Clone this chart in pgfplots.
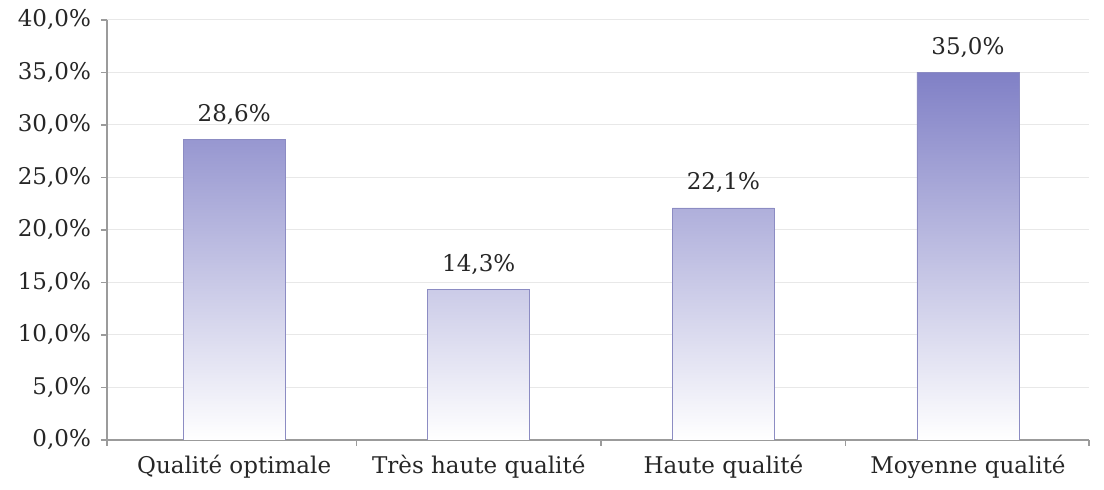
\documentclass[border=0pt]{standalone}
\usepackage{pgfplots}
\pgfplotsset{compat=1.18}
\usepackage{fontspec}
\setmainfont{DejaVu Serif}
\definecolor{bartop}{RGB}{128,128,198}
\definecolor{baredge}{RGB}{140,140,195}
\definecolor{gridc}{RGB}{232,232,232}
\definecolor{axisc}{RGB}{155,155,155}
\begin{document}
\begin{tikzpicture}
\begin{axis}[
    scale only axis,
    width=491pt, height=210pt,
    ybar, bar width=51pt,
    xmin=-0.52, xmax=3.495,
    ymin=0, ymax=40,
    xtick={0,1,2,3},
    xticklabels={Qualité optimale, Très haute qualité, Haute qualité, Moyenne qualité},
    minor xtick={-0.52,0.5,1.5,2.5,3.495},
    ytick={0,5,...,40},
    /pgf/number format/assume math mode=true,
    yticklabel={\pgfmathprintnumber[fixed,fixed zerofill,precision=1,use comma]{\tick}\%},
    axis x line*=bottom, axis y line*=left,
    axis line style={axisc, line width=0.8pt},
    tick align=outside,
    major tick length=3pt, minor tick length=3pt,
    x tick style={draw=none}, minor x tick style={draw=axisc, line width=0.8pt},
    y tick style={axisc, line width=0.8pt},
    ymajorgrids, grid style={gridc, line width=0.5pt},
    tick label style={font=\fontsize{11.5}{13}\selectfont, text=black!85},
    xticklabel style={yshift=-1pt},
    yticklabel style={xshift=-1.5pt},
    nodes near coords={\pgfmathprintnumber[fixed,fixed zerofill,precision=1,use comma]{\pgfplotspointmeta}\%},
    nodes near coords style={font=\fontsize{11.5}{13}\selectfont, text=black!85, anchor=south, yshift=4pt},
]
\addplot[draw=baredge, line width=0.4pt, top color=bartop, bottom color=white] coordinates {
    (0,28.6) (1,14.3) (2,22.1) (3,35.0)
};
\end{axis}
\pgfresetboundingbox
\path[use as bounding box] (-53.5pt,-25pt) rectangle (498.5pt,220pt);
\end{tikzpicture}
\end{document}
